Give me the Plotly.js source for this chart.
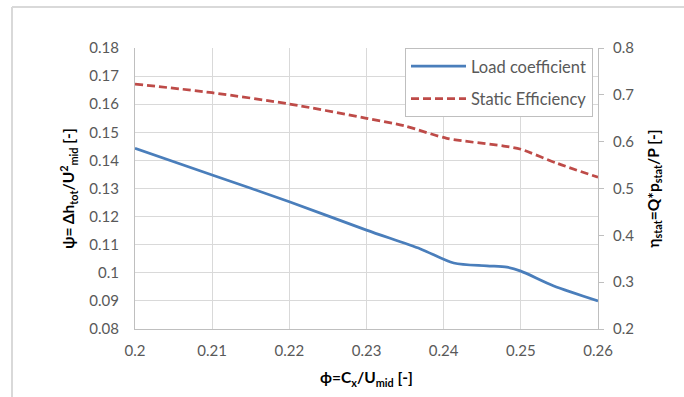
<!DOCTYPE html>
<html>
<head>
<meta charset="utf-8">
<script src="https://cdn.plot.ly/plotly-3.0.1.min.js"></script>
<style>
  html, body { margin: 0; padding: 0; background: #ffffff; }
  #chart { width: 684px; height: 397px; }
</style>
</head>
<body>
<div id="chart"></div>
<script>
// Flow coefficient (x) and series values
const phiLoad = [0.20, 0.21, 0.22, 0.23, 0.237, 0.2413, 0.2456, 0.2482, 0.25, 0.2542, 0.26];
const loadCoefficient = [0.1443, 0.1348, 0.1253, 0.1152, 0.1085, 0.1035, 0.1025, 0.1020, 0.1006, 0.0954, 0.0900];

const phiEff = [0.20, 0.21, 0.22, 0.23, 0.235, 0.2404, 0.2478, 0.25, 0.2547, 0.26];
const staticEfficiency = [0.723, 0.7045, 0.6804, 0.6499, 0.6334, 0.6072, 0.5907, 0.5837, 0.5538, 0.5239];

const xTicks = [0.2, 0.21, 0.22, 0.23, 0.24, 0.25, 0.26];
const xTickLabels = ['0.2', '0.21', '0.22', '0.23', '0.24', '0.25', '0.26'];

const seriesNames = ['Load coefficient', 'Static Efficiency'];

const W = 684, H = 397;
const M = { l: 135, r: 86, t: 48, b: 68 };
const pw = W - M.l - M.r, ph = H - M.t - M.b;
const px = v => (v - M.l) / pw;          // pixel x -> paper x
const py = v => (H - M.b - v) / ph;      // pixel y -> paper y

const FONT = 'Lato, "Open Sans", sans-serif';
const tickFont = { family: FONT, size: 15, color: '#595959' };
const titleFont = { family: FONT, size: 15.5, color: '#000000' };

const traces = [
  {
    x: phiLoad, y: loadCoefficient, name: seriesNames[0], type: 'scatter', mode: 'lines',
    line: { color: '#4a7ebb', width: 2.75, shape: 'spline', smoothing: 0.8 },
    yaxis: 'y', legendgroup: 'a'
  },
  {
    x: phiEff, y: staticEfficiency, name: seriesNames[1], type: 'scatter', mode: 'lines',
    line: { color: '#be4b48', width: 2.75, dash: '8px,4px', shape: 'spline', smoothing: 0.8 },
    yaxis: 'y2', legendgroup: 'b'
  }
];

const layout = {
  width: W, height: H,
  margin: M,
  paper_bgcolor: '#ffffff', plot_bgcolor: '#ffffff',
  font: { family: FONT, color: '#595959' },
  showlegend: true,
  legend: {
    x: px(405), y: 1, xanchor: 'left', yanchor: 'top',
    bgcolor: '#ffffff', bordercolor: '#bfbfbf', borderwidth: 1,
    font: { family: FONT, size: 16.5, color: '#595959' },
    traceorder: 'grouped', tracegroupgap: 8, itemwidth: 55
  },
  xaxis: {
    range: [0.2, 0.26], tickvals: xTicks, ticktext: xTickLabels,
    showgrid: true, gridcolor: '#d9d9d9', gridwidth: 1,
    showline: true, linecolor: '#bfbfbf', linewidth: 1,
    ticks: '', zeroline: false, tickfont: tickFont, ticklabelstandoff: 8,
    title: { text: '<b>ϕ=C<sub>x</sub>/U<sub>mid</sub> [-]</b>', font: titleFont, standoff: 14 },
    automargin: false
  },
  yaxis: {
    range: [0.08, 0.18], dtick: 0.01, tick0: 0.08,
    showgrid: true, gridcolor: '#d9d9d9', gridwidth: 1,
    showline: true, linecolor: '#bfbfbf', linewidth: 1,
    ticks: '', zeroline: false, tickfont: tickFont, ticklabelstandoff: 12,
    title: { text: '<b>ψ= Δh<sub>tot</sub>/U<sup>2</sup><sub>mid</sub> [-]</b>', font: titleFont, standoff: 10 },
    automargin: false
  },
  yaxis2: {
    range: [0.2, 0.8], dtick: 0.1, tick0: 0.2,
    overlaying: 'y', side: 'right',
    showgrid: false, zeroline: false,
    showline: true, linecolor: '#bfbfbf', linewidth: 1,
    ticks: 'outside', ticklen: 5, tickcolor: '#bfbfbf', tickwidth: 1,
    tickfont: tickFont, ticklabelstandoff: 6, tickformat: '.1f',
    title: { text: '<b>η<sub>stat</sub>=Q*p<sub>stat</sub>/P [-]</b>', font: titleFont, standoff: 14 },
    automargin: false
  },
  shapes: [
    { type: 'line', xref: 'paper', yref: 'paper', x0: px(12), x1: px(12), y0: py(7), y1: py(400),
      line: { color: '#d9d9d9', width: 2 } },
    { type: 'line', xref: 'paper', yref: 'paper', x0: px(12), x1: px(690), y0: py(7), y1: py(7),
      line: { color: '#d9d9d9', width: 2 } }
  ]
};

Plotly.newPlot('chart', traces, layout, { displayModeBar: false, staticPlot: true });
</script>
</body>
</html>
